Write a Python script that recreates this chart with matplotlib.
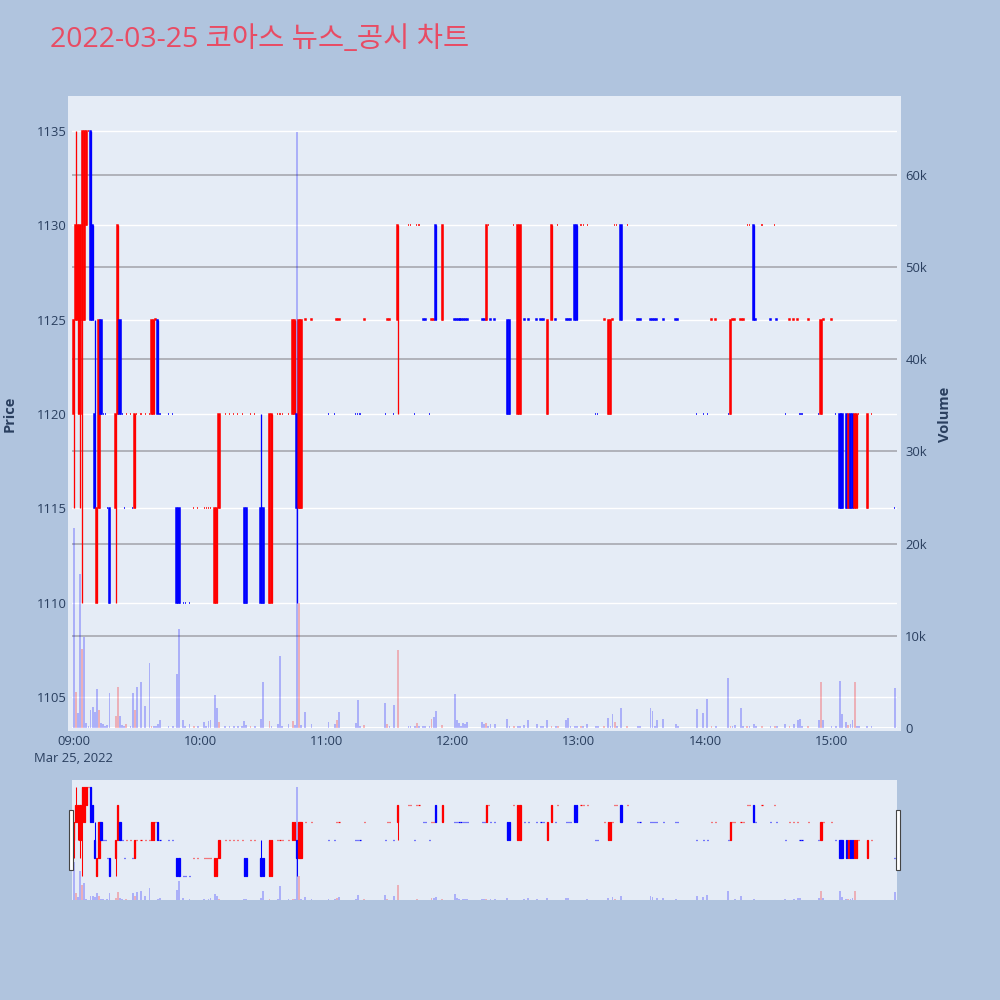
import matplotlib
matplotlib.use("Agg")
import matplotlib.pyplot as plt
from matplotlib.patches import Rectangle
from matplotlib.transforms import blended_transform_factory
import numpy as np

plt.rcParams['font.family'] = ['Open Sans', 'Noto Sans CJK KR', 'DejaVu Sans']

# 1분봉 데이터 (2022-03-25, 코아스) - 거래량은 천주 단위
times = [
    "09:00", "09:01", "09:02", "09:03", "09:04", "09:05", "09:06", "09:07", "09:08", "09:09", "09:10", "09:11", "09:12", "09:13", "09:14", "09:15", "09:16", "09:17",
    "09:20", "09:21", "09:22", "09:23", "09:24", "09:25", "09:27", "09:28", "09:29", "09:30", "09:32", "09:34", "09:36", "09:37", "09:38", "09:39", "09:40", "09:41", "09:45", "09:47",
    "09:49", "09:50", "09:52", "09:53", "09:55", "09:57", "09:59", "10:02", "10:03", "10:04", "10:05", "10:07", "10:08", "10:09", "10:12", "10:14", "10:16", "10:18",
    "10:20", "10:21", "10:22", "10:24", "10:26", "10:29", "10:30", "10:33", "10:34", "10:37", "10:38", "10:39", "10:42", "10:44", "10:45", "10:46", "10:47", "10:48", "10:50", "10:53",
    "11:01", "11:04", "11:05", "11:06", "11:14", "11:15", "11:16", "11:18", "11:28", "11:29", "11:30", "11:32", "11:34",
    "11:39", "11:40", "11:42", "11:43", "11:44", "11:46", "11:47", "11:49", "11:50", "11:51", "11:52", "11:55", "12:01", "12:02", "12:03", "12:04", "12:05", "12:06", "12:07", "12:14", "12:15", "12:16", "12:17", "12:18", "12:20",
    "12:26", "12:27", "12:29", "12:31", "12:32", "12:34", "12:36", "12:40", "12:42", "12:43", "12:45", "12:47", "12:49", "12:50", "12:54", "12:55", "12:56",
    "12:58", "12:59", "13:01", "13:02", "13:04", "13:08", "13:09", "13:12", "13:14", "13:15", "13:16", "13:17", "13:18", "13:20", "13:23", "13:28", "13:29", "13:34", "13:35", "13:36", "13:37", "13:40", "13:46", "13:47",
    "13:56", "13:59", "14:01", "14:03", "14:05", "14:11", "14:12", "14:13", "14:14", "14:17", "14:18", "14:20", "14:21", "14:23", "14:24", "14:27", "14:31", "14:33", "14:34",
    "14:38", "14:40", "14:42", "14:44", "14:45", "14:46", "14:49", "14:54", "14:55", "14:56", "15:00", "15:02", "15:04", "15:05", "15:07", "15:08", "15:09", "15:10", "15:11", "15:12", "15:13", "15:17", "15:19", "15:30",
]
opens = [
    1120, 1125, 1125, 1120, 1125, 1125, 1130, 1135, 1135, 1130, 1120, 1110, 1115, 1125, 1120, 1120, 1115, 1115,
    1115, 1120, 1125, 1120, 1115, 1120, 1120, 1115, 1115, 1120, 1120, 1120, 1120, 1120, 1120, 1125, 1125, 1120, 1120, 1120,
    1115, 1115, 1110, 1110, 1110, 1115, 1115, 1115, 1115, 1115, 1115, 1110, 1110, 1115, 1120, 1120, 1120, 1120,
    1120, 1115, 1115, 1120, 1120, 1115, 1115, 1110, 1110, 1120, 1120, 1120, 1120, 1120, 1120, 1120, 1115, 1115, 1125, 1125,
    1120, 1120, 1125, 1125, 1120, 1120, 1120, 1125, 1120, 1125, 1125, 1120, 1125,
    1130, 1130, 1120, 1130, 1130, 1125, 1125, 1120, 1125, 1125, 1130, 1125, 1125, 1125, 1125, 1125, 1125, 1125, 1125, 1125, 1125, 1125, 1130, 1125, 1125,
    1125, 1125, 1130, 1120, 1120, 1125, 1125, 1125, 1125, 1125, 1120, 1125, 1125, 1130, 1125, 1125, 1125,
    1130, 1130, 1130, 1130, 1130, 1120, 1120, 1125, 1120, 1120, 1125, 1130, 1130, 1130, 1130, 1125, 1125, 1125, 1125, 1125, 1125, 1125, 1125, 1125,
    1120, 1120, 1120, 1125, 1125, 1120, 1120, 1125, 1125, 1125, 1125, 1130, 1130, 1130, 1125, 1130, 1125, 1130, 1125,
    1120, 1125, 1125, 1125, 1120, 1120, 1125, 1120, 1120, 1125, 1125, 1120, 1120, 1120, 1120, 1115, 1120, 1120, 1115, 1115, 1120, 1115, 1120, 1115,
]
highs = [
    1125, 1135, 1130, 1130, 1135, 1135, 1135, 1135, 1135, 1130, 1125, 1115, 1125, 1125, 1120, 1120, 1115, 1115,
    1120, 1130, 1125, 1120, 1115, 1120, 1120, 1115, 1120, 1120, 1120, 1120, 1120, 1125, 1125, 1125, 1125, 1120, 1120, 1120,
    1115, 1115, 1110, 1110, 1110, 1115, 1115, 1115, 1115, 1115, 1115, 1115, 1115, 1120, 1120, 1120, 1120, 1120,
    1120, 1115, 1115, 1120, 1120, 1120, 1115, 1120, 1120, 1120, 1120, 1120, 1120, 1125, 1125, 1120, 1125, 1125, 1125, 1125,
    1120, 1120, 1125, 1125, 1120, 1120, 1120, 1125, 1120, 1125, 1125, 1120, 1130,
    1130, 1130, 1120, 1130, 1130, 1125, 1125, 1120, 1125, 1125, 1130, 1130, 1125, 1125, 1125, 1125, 1125, 1125, 1125, 1125, 1125, 1130, 1130, 1125, 1125,
    1125, 1125, 1130, 1130, 1130, 1125, 1125, 1125, 1125, 1125, 1125, 1130, 1125, 1130, 1125, 1125, 1125,
    1130, 1130, 1130, 1130, 1130, 1120, 1120, 1125, 1125, 1125, 1125, 1130, 1130, 1130, 1130, 1125, 1125, 1125, 1125, 1125, 1125, 1125, 1125, 1125,
    1120, 1120, 1120, 1125, 1125, 1120, 1125, 1125, 1125, 1125, 1125, 1130, 1130, 1130, 1125, 1130, 1125, 1130, 1125,
    1120, 1125, 1125, 1125, 1120, 1120, 1125, 1120, 1125, 1125, 1125, 1120, 1120, 1120, 1120, 1120, 1120, 1120, 1120, 1120, 1120, 1120, 1120, 1115,
]
lows = [
    1115, 1125, 1120, 1115, 1110, 1125, 1130, 1135, 1125, 1125, 1115, 1110, 1115, 1120, 1120, 1120, 1115, 1110,
    1110, 1120, 1120, 1120, 1115, 1120, 1120, 1115, 1115, 1120, 1120, 1120, 1120, 1120, 1120, 1125, 1120, 1120, 1120, 1120,
    1110, 1110, 1110, 1110, 1110, 1115, 1115, 1115, 1115, 1115, 1115, 1110, 1110, 1115, 1120, 1120, 1120, 1120,
    1120, 1110, 1110, 1120, 1120, 1110, 1110, 1110, 1110, 1120, 1120, 1120, 1120, 1120, 1120, 1110, 1115, 1115, 1125, 1125,
    1120, 1120, 1125, 1125, 1120, 1120, 1120, 1125, 1120, 1125, 1125, 1120, 1120,
    1130, 1130, 1120, 1130, 1130, 1125, 1125, 1120, 1125, 1125, 1125, 1125, 1125, 1125, 1125, 1125, 1125, 1125, 1125, 1125, 1125, 1125, 1130, 1125, 1125,
    1120, 1120, 1130, 1120, 1120, 1125, 1125, 1125, 1125, 1125, 1120, 1125, 1125, 1130, 1125, 1125, 1125,
    1125, 1125, 1130, 1130, 1130, 1120, 1120, 1125, 1120, 1120, 1125, 1130, 1130, 1125, 1130, 1125, 1125, 1125, 1125, 1125, 1125, 1125, 1125, 1125,
    1120, 1120, 1120, 1125, 1125, 1120, 1120, 1125, 1125, 1125, 1125, 1130, 1130, 1125, 1125, 1130, 1125, 1130, 1125,
    1120, 1125, 1125, 1125, 1120, 1120, 1125, 1120, 1120, 1125, 1125, 1120, 1115, 1115, 1115, 1115, 1115, 1115, 1115, 1115, 1120, 1115, 1120, 1115,
]
closes = [
    1125, 1130, 1130, 1130, 1135, 1135, 1135, 1135, 1125, 1125, 1115, 1115, 1125, 1120, 1120, 1120, 1115, 1110,
    1120, 1130, 1120, 1120, 1115, 1120, 1120, 1115, 1120, 1120, 1120, 1120, 1120, 1125, 1125, 1125, 1120, 1120, 1120, 1120,
    1110, 1110, 1110, 1110, 1110, 1115, 1115, 1115, 1115, 1115, 1115, 1115, 1115, 1120, 1120, 1120, 1120, 1120,
    1120, 1110, 1110, 1120, 1120, 1110, 1110, 1120, 1120, 1120, 1120, 1120, 1120, 1125, 1125, 1115, 1125, 1125, 1125, 1125,
    1120, 1120, 1125, 1125, 1120, 1120, 1120, 1125, 1120, 1125, 1125, 1120, 1130,
    1130, 1130, 1120, 1130, 1130, 1125, 1125, 1120, 1125, 1125, 1125, 1130, 1125, 1125, 1125, 1125, 1125, 1125, 1125, 1125, 1125, 1130, 1130, 1125, 1125,
    1120, 1120, 1130, 1130, 1130, 1125, 1125, 1125, 1125, 1125, 1125, 1130, 1125, 1130, 1125, 1125, 1125,
    1125, 1125, 1130, 1130, 1130, 1120, 1120, 1125, 1125, 1125, 1125, 1130, 1130, 1125, 1130, 1125, 1125, 1125, 1125, 1125, 1125, 1125, 1125, 1125,
    1120, 1120, 1120, 1125, 1125, 1120, 1125, 1125, 1125, 1125, 1125, 1130, 1130, 1125, 1125, 1130, 1125, 1130, 1125,
    1120, 1125, 1125, 1125, 1120, 1120, 1125, 1120, 1125, 1125, 1125, 1120, 1115, 1115, 1115, 1120, 1115, 1115, 1120, 1120, 1120, 1120, 1120, 1115,
]
volumes_k = [
    21.7, 3.9, 1.6, 16.7, 8.6, 9.9, 0.5, 0.2, 2.0, 2.3, 1.7, 4.2, 2.0, 0.5, 0.4, 0.2, 0.3, 3.8,
    1.3, 4.5, 1.3, 0.3, 0.2, 0.4, 0.2, 3.8, 2.0, 4.5, 5.0, 2.4, 7.0, 0.2, 0.2, 0.2, 0.4, 0.9, 0.2, 0.2,
    5.9, 10.7, 0.9, 0.2, 0.4, 0.2, 0.2, 0.7, 0.2, 0.8, 0.9, 3.6, 2.2, 0.6, 0.2, 0.2, 0.2, 0.2,
    0.2, 0.8, 0.3, 0.2, 0.2, 1.0, 5.0, 0.8, 0.2, 0.4, 7.8, 0.2, 0.4, 0.8, 0.3, 64.7, 13.6, 0.3, 1.7, 0.4,
    0.7, 0.4, 0.9, 1.7, 0.5, 3.0, 0.2, 0.3, 2.7, 0.4, 0.2, 2.5, 8.5,
    0.2, 0.2, 0.2, 0.5, 0.2, 0.2, 0.2, 0.2, 1.0, 1.2, 1.8, 0.3, 3.7, 0.9, 0.5, 0.2, 0.5, 0.4, 0.7, 0.6, 0.4, 0.5, 0.2, 0.4, 0.4,
    1.0, 0.2, 0.2, 0.2, 0.2, 0.3, 0.9, 0.4, 0.2, 0.2, 0.9, 0.2, 0.2, 0.2, 0.9, 1.1, 0.2,
    0.2, 0.2, 0.2, 0.2, 0.4, 0.2, 0.2, 0.2, 1.1, 0.2, 1.5, 0.7, 0.2, 2.2, 0.2, 0.2, 0.2, 2.2, 1.8, 0.2, 0.9, 1.0, 0.4, 0.2,
    2.1, 1.6, 3.1, 0.2, 0.2, 5.4, 0.2, 0.2, 0.3, 2.2, 0.2, 0.2, 0.2, 0.4, 0.2, 0.2, 0.2, 0.2, 0.2,
    0.4, 0.2, 0.4, 0.9, 1.0, 0.2, 0.2, 0.9, 5.0, 0.9, 0.2, 0.2, 5.1, 1.5, 0.6, 0.3, 0.4, 0.9, 5.0, 0.2, 0.2, 0.2, 0.2, 4.3,
]

price_ticks = [1105, 1110, 1115, 1120, 1125, 1130, 1135]
vol_ticks = [0, 10000, 20000, 30000, 40000, 50000, 60000]
vol_labels = ['0', '10k', '20k', '30k', '40k', '50k', '60k']
hour_ticks = ['09:00', '10:00', '11:00', '12:00', '13:00', '14:00', '15:00']

UP = '#FF0000'
DOWN = '#0000FF'
TXT = '#2a3f5f'


def to_min(t):
    return int(t[:2]) * 60 + int(t[3:]) - 9 * 60


x = np.array([to_min(t) for t in times])
o = np.array(opens, float)
h = np.array(highs, float)
l = np.array(lows, float)
c = np.array(closes, float)
vol = np.array(volumes_k) * 1000

# 캔들 색 (시가=종가이면 직전 종가와 비교, 같으면 직전 방향 유지)
candle_col = []
vol_col = []
inc = True
prev = None
for oo, cc in zip(o, c):
    if cc == oo:
        if prev is not None and cc != prev:
            inc = cc > prev
    else:
        inc = cc > oo
    candle_col.append(UP if inc else DOWN)
    vol_col.append(UP if (prev is not None and cc > prev) else DOWN)
    prev = cc

xlim = (-0.8, 391.1)
ylim = (1103.36, 1136.85)
vlim = (0, 68570)


def draw(ax, axv, lw, body_w):
    ax.set_xlim(*xlim)
    ax.set_ylim(*ylim)
    axv.set_ylim(*vlim)
    hl = h > l
    ax.vlines(x[hl], l[hl], h[hl], colors=np.array(candle_col)[hl], lw=lw * 0.85, zorder=3)
    bottoms = np.minimum(o, c)
    heights = np.maximum(np.abs(c - o), 0.01)
    ax.bar(x, heights, bottom=bottoms, width=body_w, color=candle_col,
           edgecolor=candle_col, linewidth=lw, zorder=4)
    axv.bar(x, vol, width=0.85, color=vol_col, alpha=0.25, linewidth=0)
    for a in (ax, axv):
        for s in a.spines.values():
            s.set_visible(False)


fig = plt.figure(figsize=(10, 10), dpi=100)
fig.patch.set_facecolor('#B0C4DE')

# 메인 차트 배경
fig.add_artist(Rectangle((0.068, 0.269), 0.833, 0.635, transform=fig.transFigure,
                         facecolor='#E5ECF6', edgecolor='none', zorder=0))

ax = fig.add_axes([0.072, 0.272, 0.825, 0.632])
ax.set_facecolor('#E5ECF6')
axv = ax.twinx()
draw(ax, axv, 1.1, 0.55)

# 가격 격자(흰색) + 거래량 격자(회색)
for p in price_ticks:
    ax.axhline(p, color='white', lw=1.0, zorder=1)
tr = blended_transform_factory(ax.transAxes, axv.transData)
for v in vol_ticks[1:]:
    ax.plot([0, 1], [v, v], transform=tr, color='#a2a2aa', lw=1.1, zorder=1.5)
ax.plot([0, 1], [0, 0], transform=tr, color='white', lw=1.4, zorder=1.5)

ax.set_yticks(price_ticks)
ax.set_yticklabels([str(p) for p in price_ticks])
axv.set_yticks(vol_ticks)
axv.set_yticklabels(vol_labels)
ax.set_xticks([i * 60 for i in range(len(hour_ticks))])
ax.set_xticklabels(hour_ticks)
ax.tick_params(axis='y', length=0, pad=4, labelsize=9.4, labelcolor=TXT)
ax.tick_params(axis='x', length=0, pad=5, labelsize=9.4, labelcolor=TXT)
axv.tick_params(axis='y', length=0, pad=6, labelsize=9.4, labelcolor=TXT)

fig.text(0.0737, 1 - 0.758, 'Mar 25, 2022', ha='center', va='center', fontsize=9.4, color=TXT)
fig.text(0.010, 1 - 0.414, 'Price', rotation=90, ha='center', va='center',
         fontsize=10.5, color=TXT, fontweight='bold')
fig.text(0.945, 1 - 0.414, 'Volume', rotation=90, ha='center', va='center',
         fontsize=10.5, color=TXT, fontweight='bold')
fig.text(0.05, 1 - 0.040, '2022-03-25 코아스 뉴스_공시 차트', ha='left', va='center',
         fontsize=20.5, color='#E84C64')

# 레인지 슬라이더
axs = fig.add_axes([0.072, 0.100, 0.825, 0.120])
axs.set_facecolor('#E5ECF6')
axsv = axs.twinx()
draw(axs, axsv, 0.9, 0.55)
for a in (axs, axsv):
    a.set_xticks([])
    a.set_yticks([])

for hx in (0.0685, 0.8955):
    fig.add_artist(Rectangle((hx, 0.130), 0.0045, 0.060, transform=fig.transFigure,
                             facecolor='white', edgecolor='#444444', lw=0.8, zorder=5))

fig.savefig('out.png', dpi=100, facecolor=fig.get_facecolor())
